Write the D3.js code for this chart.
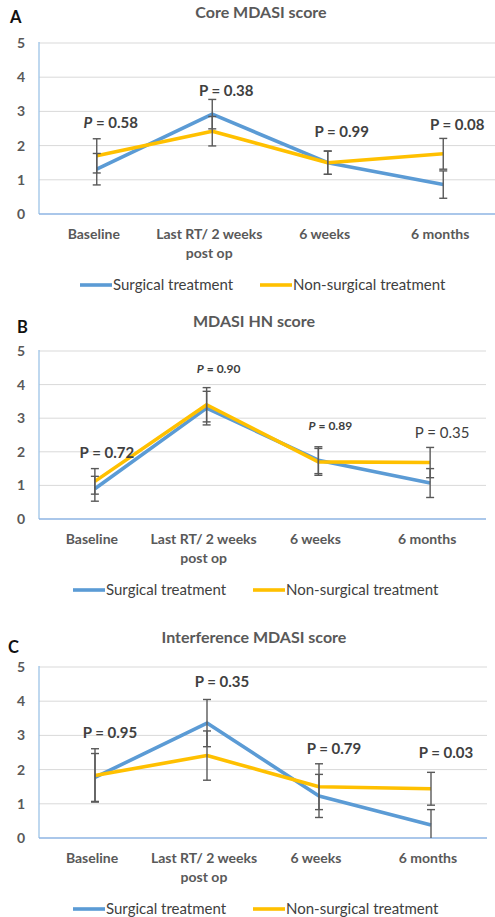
<!DOCTYPE html>
<html>
<head>
<meta charset="utf-8">
<script src="https://cdn.jsdelivr.net/npm/d3@7"></script>
<style>
    body { margin: 0; background: #fff; }
    svg { display: block; font-family: Lato, 'Open Sans', sans-serif; }
</style>
</head>
<body>
<svg width="495" height="917"></svg>
<script>
let categories = ['Baseline', 'Last RT/ 2 weeks\npost op', '6 weeks', '6 months']
let yTicks = [0, 1, 2, 3, 4, 5]
let seriesNames = ['Surgical treatment', 'Non-surgical treatment']

// A - Core MDASI
let coreSurgical = [1.31, 2.92, 1.50, 0.86]
let coreSurgicalErr = [0.46, 0.43, 0.34, 0.40]
let coreNonSurgical = [1.70, 2.42, 1.50, 1.76]
let coreNonSurgicalErr = [0.50, 0.43, 0.34, 0.45]
let coreP = ['0.58', '0.38', '0.99', '0.08']

// B - MDASI HN
let hnSurgical = [0.90, 3.30, 1.75, 1.07]
let hnSurgicalErr = [0.37, 0.50, 0.40, 0.43]
let hnNonSurgical = [1.12, 3.40, 1.70, 1.68]
let hnNonSurgicalErr = [0.38, 0.51, 0.40, 0.45]
let hnP = ['0.72', '0.90', '0.89', '0.35']

// C - Interference MDASI
let intSurgical = [1.77, 3.36, 1.23, 0.38]
let intSurgicalErr = [0.70, 0.69, 0.63, 0.45]
let intNonSurgical = [1.83, 2.41, 1.50, 1.44]
let intNonSurgicalErr = [0.78, 0.72, 0.67, 0.48]
let intP = ['0.95', '0.35', '0.79', '0.03']

let colors = ['#5b9bd5', '#ffc000']
let textColor = '#595959'

let svg = d3.select('svg')

drawPanel({
    letter: 'A', title: 'Core MDASI score',
    series: [[coreSurgical, coreSurgicalErr], [coreNonSurgical, coreNonSurgicalErr]],
    p: coreP,
    // where each p label sits: value on the y scale, px shift from the category
    pAt: [2.66, 3.60, 2.40, 2.60], pDx: 14,
    pStyle: [{ it: true }, {}, {}, {}],
    top: 43, bottom: 214, right: 501,
    letterX: 10, letterY: 23, titleX: 261, titleY: 18, legendX: 80
})
drawPanel({
    letter: 'B', title: 'MDASI HN score',
    series: [[hnSurgical, hnSurgicalErr], [hnNonSurgical, hnNonSurgicalErr]],
    p: hnP,
    pAt: [1.96, 4.46, 2.77, 2.56], pDx: 12,
    pStyle: [{}, { it: true, small: true }, { it: true, small: true }, { light: true }],
    top: 351, bottom: 519, right: 486,
    letterX: 17, letterY: 333, titleX: 254, titleY: 327, legendX: 73
})
drawPanel({
    letter: 'C', title: 'Interference MDASI score',
    series: [[intSurgical, intSurgicalErr], [intNonSurgical, intNonSurgicalErr]],
    p: intP,
    pAt: [3.07, 4.56, 2.60, 2.49], pDx: 15,
    pStyle: [{}, {}, {}, {}],
    top: 667, bottom: 838, right: 487,
    letterX: 8, letterY: 653, titleX: 254, titleY: 643, legendX: 73
})

function drawPanel(c) {
    let left = 39
    let x = d3.scaleBand().domain(categories).range([left, c.right])
    let y = d3.scaleLinear().domain([0, 5]).range([c.bottom, c.top])
    let cx = d => x(d) + x.bandwidth() / 2

    let g = svg.append('g')
    let clipId = 'clip' + c.letter
    g.append('clipPath').attr('id', clipId)
        .append('rect')
        .attr('x', left).attr('y', c.top - 5)
        .attr('width', c.right - left).attr('height', c.bottom - c.top + 5)

    g.append('text')
        .text(c.letter)
        .attr('x', c.letterX).attr('y', c.letterY)
        .attr('font-size', 16.5).attr('font-weight', 'bold').attr('fill', '#111')
    g.append('text')
        .text(c.title)
        .attr('x', c.titleX).attr('y', c.titleY)
        .attr('text-anchor', 'middle')
        .attr('font-size', 16).attr('font-weight', 'bold').attr('fill', textColor)

    // gridlines
    g.selectAll('line.grid')
        .data(yTicks.slice(1))
        .enter()
        .append('line')
        .attr('class', 'grid')
        .attr('x1', left).attr('x2', c.right)
        .attr('y1', d => y(d)).attr('y2', d => y(d))
        .attr('stroke', '#d9d9d9').attr('stroke-width', 1)

    // y axis labels
    let yAxis = d3.axisLeft(y).tickValues(yTicks).tickFormat(d3.format('d')).tickSize(0).tickPadding(14)
    let ya = g.append('g').attr('transform', 'translate(' + left + ',0)').call(yAxis)
    ya.select('.domain').remove()
    ya.selectAll('text')
        .attr('font-family', 'Lato, sans-serif')
        .attr('font-size', 14).attr('font-weight', 'bold').attr('fill', textColor)

    // plot border: left + bottom
    g.append('line')
        .attr('x1', left).attr('x2', left).attr('y1', c.top - 1).attr('y2', c.bottom)
        .attr('stroke', '#9dc3e6').attr('stroke-width', 1.3)
    g.append('line')
        .attr('x1', left).attr('x2', c.right).attr('y1', c.bottom).attr('y2', c.bottom)
        .attr('stroke', '#8eb4e3').attr('stroke-width', 1.5)

    // x labels
    let xl = g.selectAll('text.xl')
        .data(categories)
        .enter()
        .append('text')
        .attr('class', 'xl')
        .attr('text-anchor', 'middle')
        .attr('font-size', 14).attr('font-weight', 'bold').attr('fill', textColor)
    xl.selectAll('tspan')
        .data(d => d.split('\n').map(t => ({ t: t, cat: d })))
        .enter()
        .append('tspan')
        .text(d => d.t)
        .attr('x', d => cx(d.cat) - 3)
        .attr('y', (d, i) => c.bottom + 25 + i * 19)

    // lines
    let line = d3.line()
        .x((d, i) => cx(categories[i]))
        .y(d => y(d))
    let plot = g.append('g').attr('clip-path', 'url(#' + clipId + ')')
    c.series.forEach((s, k) => {
        plot.append('path')
            .datum(s[0])
            .attr('d', line)
            .attr('fill', 'none')
            .attr('stroke', colors[k])
            .attr('stroke-width', 3.6)
            .attr('stroke-linejoin', 'round')
    })

    // error bars
    c.series.forEach(s => {
        let eb = plot.selectAll(null)
            .data(s[0].map((v, i) => ({ v: v, e: s[1][i], cat: categories[i] })))
            .enter()
            .append('g')
            .attr('stroke', '#595959').attr('stroke-width', 1.4)
        eb.append('line')
            .attr('x1', d => cx(d.cat)).attr('x2', d => cx(d.cat))
            .attr('y1', d => y(d.v - d.e)).attr('y2', d => y(d.v + d.e))
        eb.append('line')
            .attr('x1', d => cx(d.cat) - 4).attr('x2', d => cx(d.cat) + 4)
            .attr('y1', d => y(d.v - d.e)).attr('y2', d => y(d.v - d.e))
        eb.append('line')
            .attr('x1', d => cx(d.cat) - 4).attr('x2', d => cx(d.cat) + 4)
            .attr('y1', d => y(d.v + d.e)).attr('y2', d => y(d.v + d.e))
    })

    // p value labels
    let pl = g.selectAll('text.p')
        .data(c.p.map((p, i) => ({ p: p, at: c.pAt[i], st: c.pStyle[i], cat: categories[i] })))
        .enter()
        .append('text')
        .attr('class', 'p')
        .attr('x', d => cx(d.cat) + c.pDx)
        .attr('y', d => y(d.at))
        .attr('dy', '0.35em')
        .attr('text-anchor', 'middle')
        .attr('font-size', d => d.st.small ? 12 : 15)
        .attr('font-weight', d => d.st.light ? 'normal' : 'bold')
        .attr('fill', '#404040')
    pl.append('tspan').text('P').attr('font-style', d => d.st.it ? 'italic' : 'normal')
    pl.append('tspan').text(d => ' = ' + d.p)

    // legend
    let lg = g.append('g').attr('transform', 'translate(' + c.legendX + ',' + (c.bottom + 71) + ')')
    let item = lg.selectAll('g')
        .data(seriesNames)
        .enter()
        .append('g')
        .attr('transform', (d, i) => 'translate(' + i * 180 + ',0)')
    item.append('line')
        .attr('x1', 0).attr('x2', 32)
        .attr('stroke', (d, i) => colors[i]).attr('stroke-width', 3.6)
    item.append('text')
        .text(d => d)
        .attr('x', 33).attr('dy', '0.35em')
        .attr('font-size', 15).attr('fill', '#404040')
}
</script>
</body>
</html>
